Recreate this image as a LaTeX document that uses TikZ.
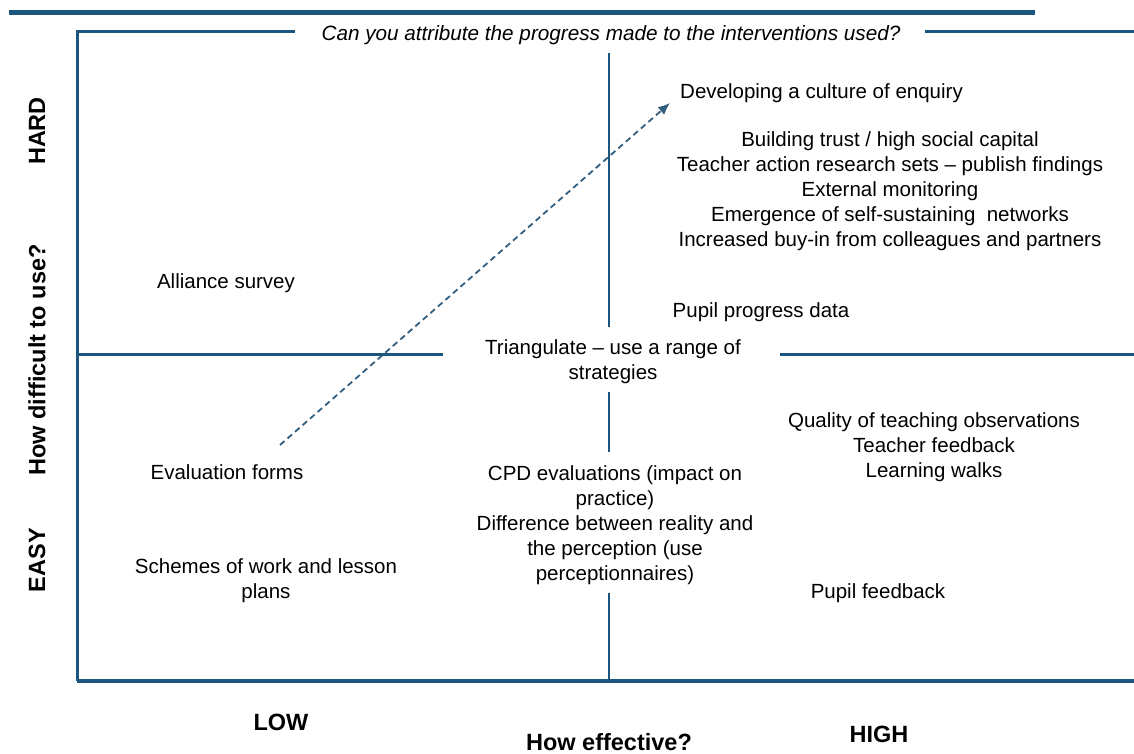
\documentclass[tikz,border=0pt]{standalone}
\usepackage{fontspec}
\setmainfont{Liberation Sans}
\usetikzlibrary{arrows.meta}
\definecolor{frameblue}{RGB}{28,85,125}
\definecolor{dashblue}{RGB}{50,95,128}
\tikzset{
  body/.style={inner sep=0pt, align=center, text=black, yshift=-2pt, font=\fontsize{20.5}{25}\selectfont},
  axislabel/.style={inner sep=0pt, align=center, text=black, font=\fontsize{23.5}{28}\selectfont\bfseries},
  question/.style={inner sep=0pt, text=black, yshift=-1pt, font=\fontsize{20.7}{25}\selectfont\itshape},
  frameline/.style={draw=frameblue, line width=2.6pt},
  progress/.style={draw=dashblue, line width=1.8pt, dash pattern=on 6pt off 4pt, -{Latex[length=12pt,width=10pt]}},
}
\begin{document}
\begin{tikzpicture}[x=1pt,y=-1pt]
\useasboundingbox (0,0) rectangle (1134,754);
% top bar
\draw[draw=frameblue, line width=5pt] (9,13) -- (1035,13);
% frame
\draw[frameline, line width=3pt] (295,32) -- (77,32) -- (77,681);
\draw[frameline, line width=3pt] (925,32) -- (1134,32);
\draw[frameline, line width=3.6pt] (77,681) -- (1134,681);
% quadrant lines
\draw[frameline] (609,53) -- (609,327);
\draw[frameline] (609,392) -- (609,452);
\draw[frameline] (609,593) -- (609,681);
\draw[frameline, line width=3pt] (77,354) -- (443,354);
\draw[frameline, line width=3pt] (780,354) -- (1134,354);
% question
\node[question] (q) at (611,34) {Can you attribute the progress made to the interventions used?};
% axis labels
\node[axislabel, rotate=90] (hard) at (37,131) {HARD};
\node[axislabel, rotate=90] (diff) at (37,360) {How difficult to use?};
\node[axislabel, rotate=90] (easy) at (37,560) {EASY};
\node[axislabel] (low) at (281,722) {LOW};
\node[axislabel] (eff) at (609,742) {How effective?};
\node[axislabel] (high) at (879,734) {HIGH};
% items
\node[body, anchor=west] (culture) at (680,91) {Developing a culture of enquiry};
\node[body] (hardhigh) at (890,189) {Building trust / high social capital\\Teacher action research sets -- publish findings\\External monitoring\\Emergence of self-sustaining\ \ networks\\Increased buy-in from colleagues and partners};
\node[body] (alliance) at (226,281) {Alliance survey};
\node[body] (pupilprog) at (761,310) {Pupil progress data};
\node[body] (tri) at (613,360) {Triangulate -- use a range of\\strategies};
\node[body] (quality) at (934,445.5) {Quality of teaching observations\\Teacher feedback\\Learning walks};
\node[body] (evalforms) at (227,470) {Evaluation forms};
\node[body] (cpd) at (615,523) {CPD evaluations (impact on\\practice)\\Difference between reality and\\the perception (use\\perceptionnaires)};
\node[body] (schemes) at (266,578.5) {Schemes of work and lesson\\plans};
\node[body] (pupilfb) at (878,591) {Pupil feedback};
% progression arrow
\coordinate (arrowstart) at (280,445);
\coordinate (arrowend) at (670,103);
\draw[progress] (arrowstart) -- (arrowend);
\end{tikzpicture}
\end{document}
